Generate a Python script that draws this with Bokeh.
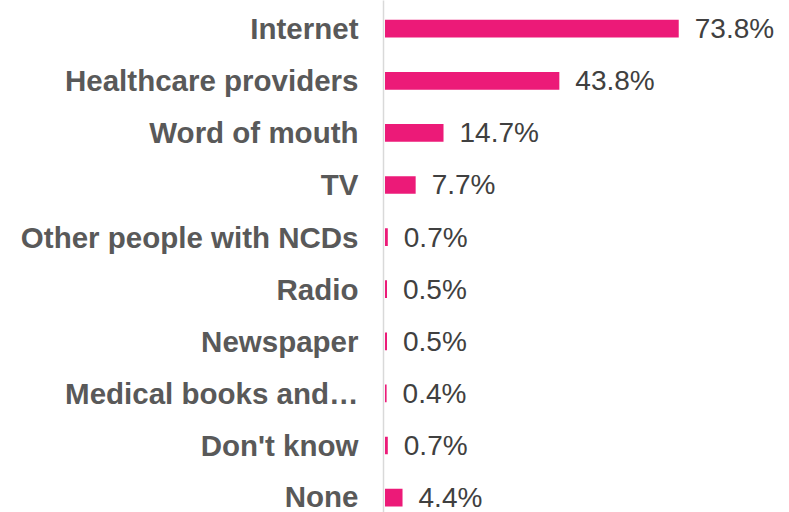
from bokeh.plotting import figure
from bokeh.models import Range1d, FixedTicker, ColumnDataSource
from bokeh.embed import file_html
from bokeh.resources import INLINE
from bokeh.core.properties import value

categories = ["Internet", "Healthcare providers", "Word of mouth", "TV",
              "Other people with NCDs", "Radio", "Newspaper",
              "Medical books and\u2026", "Don't know", "None"]
values = [73.8, 43.8, 14.7, 7.7, 0.7, 0.5, 0.5, 0.4, 0.7, 4.4]
labels = [f"{v}%" for v in values]
positions = list(range(len(categories)))

src = ColumnDataSource(dict(y=positions, v=values, label=labels))

p = figure(width=789, height=512, output_backend="svg", toolbar_location=None,
           x_range=Range1d(-0.38, 101.63), y_range=Range1d(9.286, -0.541),
           x_axis_type=None,
           min_border_left=383, min_border_right=0,
           min_border_top=0, min_border_bottom=0)

p.hbar(y="y", left=0, right="v", height=0.34, source=src,
       fill_color="#EC1A78", line_color=None)
p.text(x="v", y="y", text="label", source=src, x_offset=16,
       text_baseline="middle", text_align="left",
       text_font=value("Liberation Sans"), text_font_size="28px",
       text_color="#404040")

ax = p.yaxis[0]
ax.ticker = FixedTicker(ticks=positions)
ax.major_label_overrides = {i: c for i, c in enumerate(categories)}
ax.major_tick_line_color = None
ax.minor_tick_line_color = None
ax.major_tick_out = 0
ax.major_tick_in = 0
ax.major_label_standoff = 25
ax.major_label_text_font = "Liberation Sans"
ax.major_label_text_font_style = "bold"
ax.major_label_text_font_size = "29.5px"
ax.major_label_text_color = "#595959"
ax.axis_line_color = "#D9D9D9"
ax.axis_line_width = 1.5

p.grid.visible = False
p.outline_line_color = None
p.background_fill_color = "white"
p.border_fill_color = "white"

open("out.html", "w").write(file_html(p, INLINE))
